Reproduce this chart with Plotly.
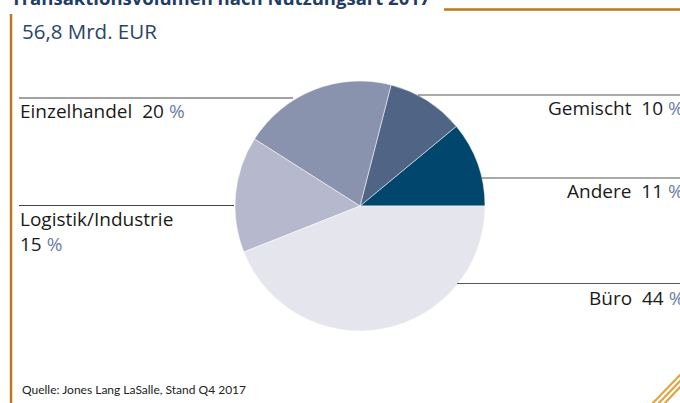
import plotly.graph_objects as go

W, H = 680, 403

categories = ["Andere", "Gemischt", "Einzelhandel", "Logistik/Industrie", "Büro"]
values = [11, 10, 20, 15, 44]
colors = ["#00466d", "#506586", "#8a93ad", "#b6b9cd", "#e5e6ed"]

title_text = "Transaktionsvolumen nach Nutzungsart 2017"
subtitle_text = "56,8 Mrd. EUR"
source_text = "Quelle: Jones Lang LaSalle, Stand Q4 2017"

GOLD = "#b9791c"
NAVY = "#1f3d66"
PCT = "#6a7ea8"
FONT = "'Open Sans', Lato, sans-serif"
SRC_FONT = "Lato, sans-serif"

def px(x):
    return x / W

def py(y):
    return 1 - y / H

cx, cy, r = 360, 206, 125

fig = go.Figure(go.Pie(
    labels=categories,
    values=values,
    marker=dict(colors=colors, line=dict(color="#ffffff", width=0.5)),
    sort=False,
    direction="counterclockwise",
    rotation=50.4,
    textinfo="none",
    hoverinfo="label+percent",
    domain=dict(x=[px(cx - r), px(cx + r)], y=[py(cy + r), py(cy - r)]),
    showlegend=False,
))

def pct_label(name, val):
    return f"{name}  {val} <span style='color:{PCT}'>%</span>"

shapes = [
    dict(type="line", x0=px(444), x1=px(681), y0=py(9.5), y1=py(9.5), line=dict(color=GOLD, width=2.5)),
    dict(type="line", x0=px(11), x1=px(11), y0=py(14), y1=py(404), line=dict(color=GOLD, width=2.5)),
    dict(type="line", x0=px(19), x1=px(293), y0=py(98), y1=py(98), line=dict(color="#444444", width=1)),
    dict(type="line", x0=px(19), x1=px(234), y0=py(205.5), y1=py(205.5), line=dict(color="#444444", width=1)),
    dict(type="line", x0=px(418), x1=px(681), y0=py(95), y1=py(95), line=dict(color="#555555", width=1)),
    dict(type="line", x0=px(480), x1=px(681), y0=py(178), y1=py(178), line=dict(color="#555555", width=1)),
    dict(type="line", x0=px(457), x1=px(681), y0=py(283.5), y1=py(283.5), line=dict(color="#555555", width=1)),
]
for off in [0, 6, 12]:
    shapes.append(dict(type="line", x0=px(652 + off), y0=py(404), x1=px(681), y1=py(375 + off - 1),
                       line=dict(color="#e0a443", width=2.2)))

LBL = dict(size=19, color="#1a1a1a", family=FONT)

annotations = [
    dict(text=f"<b>{title_text}</b>", x=px(9), y=py(-3), xanchor="left", yanchor="middle",
         font=dict(size=18.5, color=NAVY, family=FONT)),
    dict(text=subtitle_text, x=px(20), y=py(31), xanchor="left", yanchor="middle",
         font=dict(size=20.5, color="#2a4468", family=FONT)),
    dict(text=pct_label("Einzelhandel", values[2]), x=px(18), y=py(111), xanchor="left", yanchor="middle", font=LBL),
    dict(text="Logistik/Industrie", x=px(18), y=py(219), xanchor="left", yanchor="middle", font=LBL),
    dict(text=f"{values[3]} <span style='color:{PCT}'>%</span>", x=px(18), y=py(244), xanchor="left",
         yanchor="middle", font=LBL),
    dict(text=pct_label("Gemischt", values[1]), x=px(686), y=py(108), xanchor="right", yanchor="middle", font=LBL),
    dict(text=pct_label("Andere", values[0]), x=px(686), y=py(191), xanchor="right", yanchor="middle", font=LBL),
    dict(text=pct_label("Büro", values[4]), x=px(686), y=py(298), xanchor="right", yanchor="middle", font=LBL),
    dict(text=source_text, x=px(20), y=py(389), xanchor="left", yanchor="middle",
         font=dict(size=12, color="#222222", family=SRC_FONT)),
]
for a in annotations:
    a.update(xref="paper", yref="paper", showarrow=False)

fig.update_layout(
    width=W, height=H,
    margin=dict(l=0, r=0, t=0, b=0),
    paper_bgcolor="#ffffff",
    plot_bgcolor="#ffffff",
    shapes=shapes,
    annotations=annotations,
)

fig.write_html("out.html", config={"displayModeBar": False},
               post_script="document.body.style.margin='0';document.body.style.overflow='hidden';")
